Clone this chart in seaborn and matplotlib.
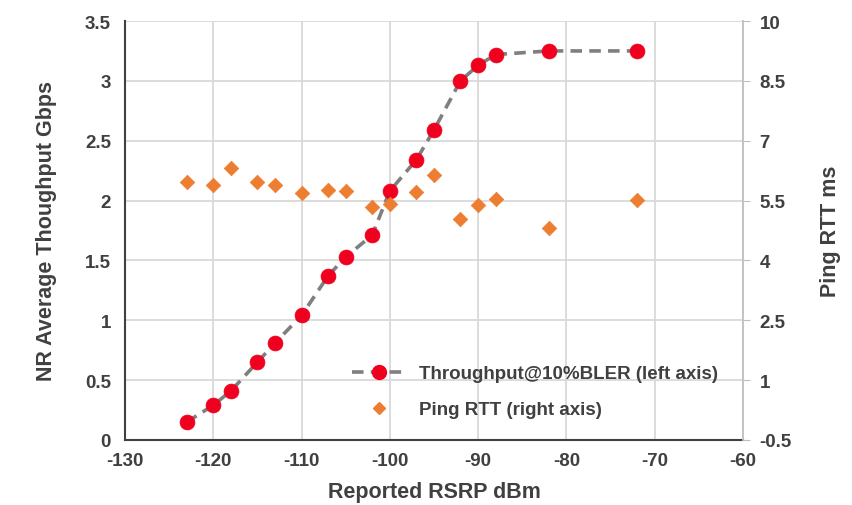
import matplotlib
matplotlib.use("Agg")
import matplotlib.pyplot as plt
import seaborn as sns
import pandas as pd
from matplotlib.lines import Line2D

# data
rsrp = [-123, -120, -118, -115, -113, -110, -107, -105, -102, -100, -97, -95, -92, -90, -88, -82, -72]
throughput = [0.15, 0.29, 0.41, 0.65, 0.81, 1.04, 1.37, 1.53, 1.71, 2.08, 2.34, 2.59, 3.00, 3.13, 3.22, 3.25, 3.25]
ping_rtt = [5.96, 5.89, 6.32, 5.97, 5.89, 5.69, 5.77, 5.73, 5.33, 5.41, 5.71, 6.15, 5.04, 5.40, 5.54, 4.81, 5.52]

left_ticks = [0, 0.5, 1, 1.5, 2, 2.5, 3, 3.5]
right_ticks = [-0.5, 1, 2.5, 4, 5.5, 7, 8.5, 10]
x_ticks = [-130, -120, -110, -100, -90, -80, -70, -60]

df = pd.DataFrame({"rsrp": rsrp, "tput": throughput, "ping": ping_rtt})

sns.set_style("white")
plt.rcParams["font.family"] = ["Liberation Sans", "DejaVu Sans"]

text_col = "#404040"
grid_col = "#d9d9d9"
red = "#f0001e"
orange = "#ed7d31"
dash = [3.2, 2.0]

fig = plt.figure(figsize=(8.53, 5.06), dpi=100)
ax = fig.add_axes([0.1465, 0.1285, 0.7245, 0.828])
ax2 = ax.twinx()

# throughput: dashed grey line plus red markers
sns.lineplot(data=df, x="rsrp", y="tput", ax=ax, color="#7f7f7f", linewidth=2.6,
             zorder=3)
ax.lines[0].set_dashes(dash)
sns.scatterplot(data=df, x="rsrp", y="tput", ax=ax, color=red, s=115,
                edgecolor=red, linewidth=0.5, zorder=4)

# ping on right axis
sns.scatterplot(data=df, x="rsrp", y="ping", ax=ax2, color=orange, marker="D",
                s=55, edgecolor=orange, linewidth=0.5, zorder=4)

ax.set_xlim(-130, -60)
ax.set_ylim(0, 3.5)
ax2.set_ylim(-0.5, 10)
ax.set_xticks(x_ticks)
ax.set_yticks(left_ticks)
ax2.set_yticks(right_ticks)
ax.set_yticklabels([f"{v:g}" for v in left_ticks])
ax2.set_yticklabels([f"{v:g}" for v in right_ticks])
ax.set_xticklabels([f"{v:g}" for v in x_ticks])

ax.grid(True, color=grid_col, linewidth=1.3)
ax.set_axisbelow(True)

for a in (ax, ax2):
    for s in a.spines.values():
        s.set_visible(False)
ax.spines["left"].set_visible(True)
ax.spines["left"].set_color("#404040")
ax.spines["left"].set_linewidth(1.5)
ax.spines["bottom"].set_visible(True)
ax.spines["bottom"].set_color("#404040")
ax.spines["bottom"].set_linewidth(1.5)
ax2.spines["right"].set_visible(True)
ax2.spines["right"].set_color("#bfbfbf")
ax2.spines["right"].set_linewidth(1.3)

ax.tick_params(axis="both", length=0, labelsize=13.5, labelcolor=text_col)
ax.tick_params(axis="y", pad=10)
ax.tick_params(axis="x", pad=9)
ax2.tick_params(axis="y", direction="out", length=5, color="#bfbfbf",
                labelsize=13.5, labelcolor=text_col, pad=7)
for lab in ax.get_xticklabels() + ax.get_yticklabels() + ax2.get_yticklabels():
    lab.set_fontweight("bold")

ax.set_xlabel("Reported RSRP dBm", fontsize=15.5, fontweight="bold", color=text_col, labelpad=8)
ax.set_ylabel("NR Average Thoughput Gbps", fontsize=15.5, fontweight="bold", color=text_col, labelpad=20)
ax2.set_ylabel("Ping RTT ms", fontsize=15.5, fontweight="bold", color=text_col, labelpad=20)

handles = [
    Line2D([], [], color="#7f7f7f", linewidth=2.6, dashes=dash, marker="o",
           markersize=10, markerfacecolor=red, markeredgecolor=red),
    Line2D([], [], linestyle="none", marker="D", markersize=6.5,
           markerfacecolor=orange, markeredgecolor=orange),
]
leg = ax.legend(handles, ["Throughput@10%BLER (left axis)", "Ping RTT (right axis)"],
                loc="lower left", bbox_to_anchor=(0.34, 0.012), frameon=False,
                handlelength=2.9, handletextpad=0.65, labelspacing=1.0,
                prop={"size": 13.5, "weight": "bold"})
for t in leg.get_texts():
    t.set_color(text_col)

fig.savefig("out.png", dpi=100)
